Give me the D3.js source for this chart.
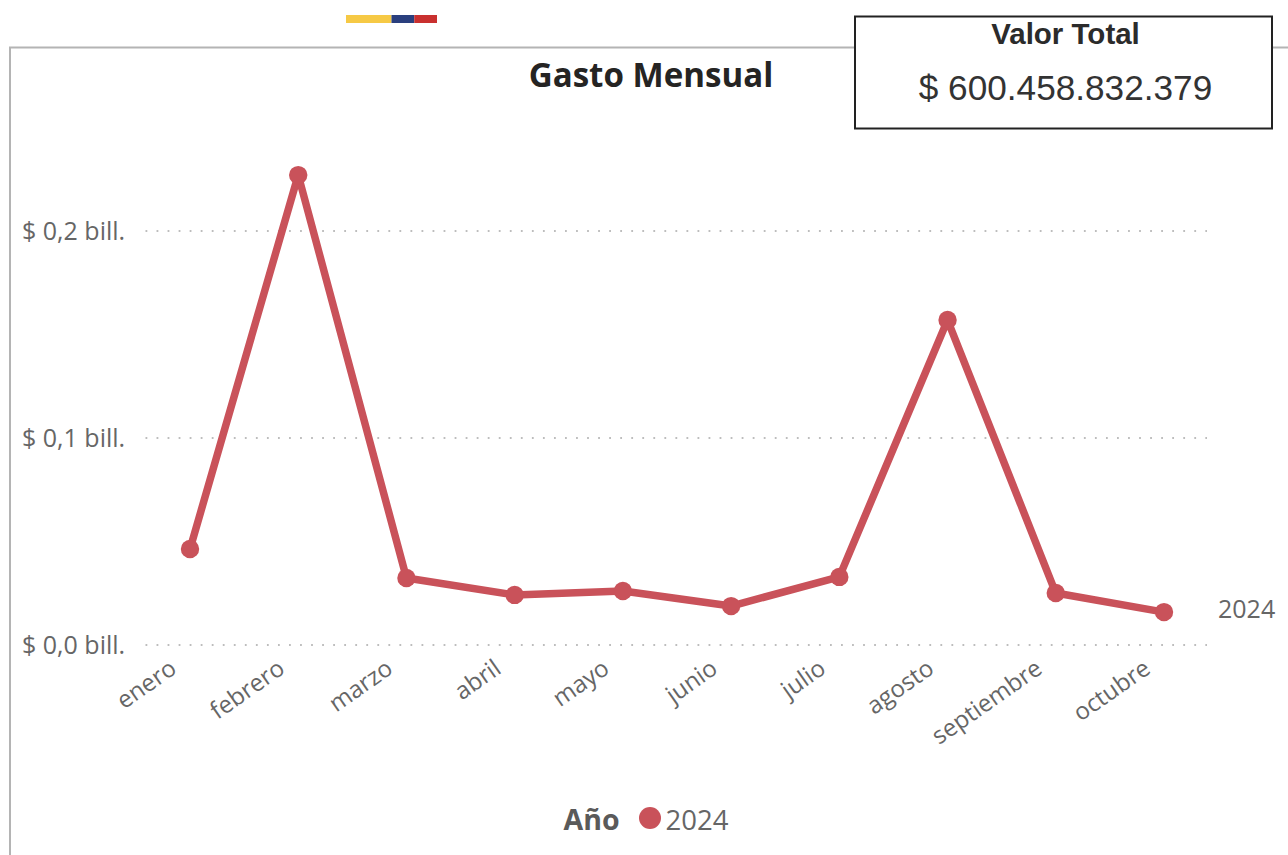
<!DOCTYPE html>
<html><head><meta charset="utf-8">
<script src="https://cdnjs.cloudflare.com/ajax/libs/d3/7.8.5/d3.min.js"></script>
<style>html,body{margin:0;padding:0;background:#fff;overflow:hidden}svg{display:block}</style>
</head><body><svg id="c" width="1288" height="855"></svg>
<script>
const months=["enero","febrero","marzo","abril","mayo","junio","julio","agosto","septiembre","octubre"];
const gasto2024=[0.0464,0.227,0.0324,0.0242,0.0261,0.0188,0.0329,0.157,0.0251,0.0159];
const yTicks=[0,0.1,0.2];
const yTickLabels=["$ 0,0 bill.","$ 0,1 bill.","$ 0,2 bill."];
const seriesName="2024";
const flagColors=["#F6C945","#2A3F7E","#C9302F"];
const flagWidths=[2,1,1];

const svg=d3.select("#c");
const axisFont="'Open Sans',sans-serif", grey="#666666", red="#C9525A";
const x=d3.scalePoint().domain(months).range([190,1164]);
const y=d3.scaleLinear().domain([0,0.2]).range([645,231]);

// frame
svg.append("path").attr("d","M10,855V47.5H1288").attr("fill","none").attr("stroke","#b4b4b4").attr("stroke-width",2);

// flag
const fx=d3.scaleLinear().domain([0,d3.sum(flagWidths)]).range([346,437]);
let acc=0;
flagColors.forEach((c,i)=>{svg.append("rect").attr("x",fx(acc)).attr("y",15).attr("width",fx(acc+flagWidths[i])-fx(acc)).attr("height",8).attr("fill",c);acc+=flagWidths[i];});

// grid
svg.append("g").selectAll("line").data(yTicks).join("line")
 .attr("x1",145.5).attr("x2",1207).attr("y1",d=>y(d)).attr("y2",d=>y(d))
 .attr("stroke","#bdbdbd").attr("stroke-width",1.8).attr("stroke-dasharray","1.8 9.24");

// y labels
svg.append("g").selectAll("text").data(yTicks).join("text")
 .attr("x",22).attr("y",d=>y(d)+9).attr("fill",grey)
 .style("font",`25px ${axisFont}`).text((d,i)=>yTickLabels[i]);

// x labels
svg.append("g").selectAll("text").data(months).join("text")
 .attr("text-anchor","end").attr("fill",grey).style("font",`24px ${axisFont}`)
 .attr("transform",d=>`translate(${x(d)-12},672) rotate(-35)`).text(d=>d);

// line
svg.append("path").datum(gasto2024).attr("fill","none").attr("stroke",red).attr("stroke-width",7.5).attr("stroke-linejoin","round")
 .attr("d",d3.line().x((d,i)=>x(months[i])).y(d=>y(d)));
svg.append("g").selectAll("circle").data(gasto2024).join("circle")
 .attr("cx",(d,i)=>x(months[i])).attr("cy",d=>y(d)).attr("r",9.2).attr("fill",red);

// end label
svg.append("text").attr("x",1218).attr("y",y(gasto2024[9])+6).attr("fill",grey).style("font",`25px ${axisFont}`).text(seriesName);

// title
svg.append("text").attr("x",651).attr("y",87).attr("text-anchor","middle").attr("fill","#252423")
 .style("font",`bold 33.1px ${axisFont}`).text("Gasto Mensual");

// KPI card
svg.append("rect").attr("x",855).attr("y",16.5).attr("width",417).attr("height",112).attr("fill","#fff").attr("stroke","#222").attr("stroke-width",2);
svg.append("text").attr("x",1065.5).attr("y",44).attr("text-anchor","middle").attr("fill","#2b2b2b")
 .style("font","bold 29.5px 'Liberation Sans',sans-serif").text("Valor Total");
svg.append("text").attr("x",1065.5).attr("y",100).attr("text-anchor","middle").attr("fill","#333")
 .style("font","35.2px 'Liberation Sans',sans-serif").text("$ 600.458.832.379");

// legend
svg.append("text").attr("x",563.5).attr("y",830).attr("fill","#5a5a5a").style("font",`bold 28.5px ${axisFont}`).text("Año");
svg.append("circle").attr("cx",650).attr("cy",818).attr("r",11).attr("fill",red);
svg.append("text").attr("x",665.5).attr("y",830).attr("fill",grey).style("font",`27.5px ${axisFont}`).text(seriesName);
</script></body></html>
